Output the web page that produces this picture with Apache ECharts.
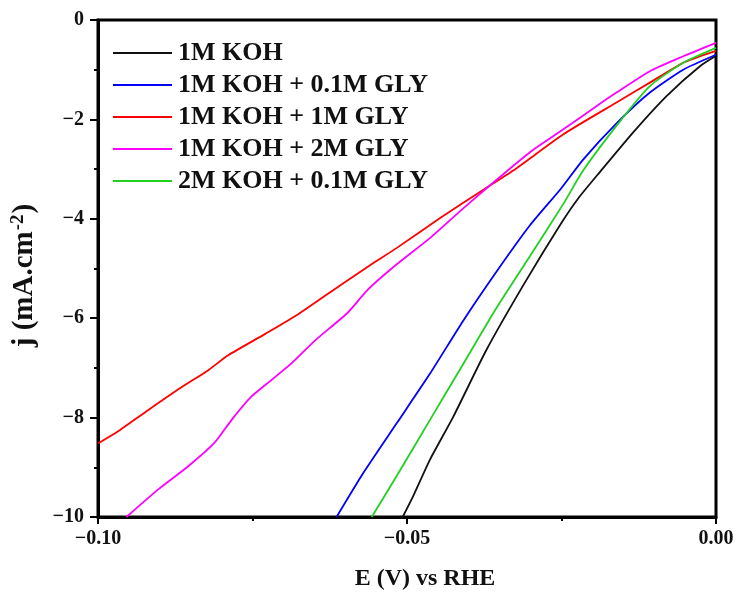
<!DOCTYPE html>
<html>
<head>
<meta charset="utf-8">
<script src="https://cdn.jsdelivr.net/npm/echarts@6/dist/echarts.min.js"></script>
<style>
html,body{margin:0;padding:0;background:#fff;}
#c{width:737px;height:596px;}
</style>
</head>
<body>
<div id="c"></div>
<script>
// ---- data ----
const seriesNames = ['1M KOH', '1M KOH + 0.1M GLY', '1M KOH + 1M GLY', '1M KOH + 2M GLY', '2M KOH + 0.1M GLY'];

const koh1X = [-0.0507, -0.0490, -0.0463, -0.0425, -0.0372, -0.0311, -0.0250, -0.0223, -0.0188, -0.0134, -0.0080, -0.0026, 0];
const koh1Y = [-10, -9.58, -8.85, -7.98, -6.65, -5.32, -4.08, -3.59, -3.06, -2.26, -1.53, -0.93, -0.72];

const gly01X = [-0.0614, -0.0571, -0.0517, -0.0463, -0.0409, -0.0355, -0.0301, -0.0250, -0.0215, -0.0161, -0.0107, -0.0053, 0];
const gly01Y = [-10, -9.12, -8.12, -7.12, -6.05, -5.06, -4.13, -3.38, -2.81, -2.08, -1.46, -1.00, -0.70];

const gly1X = [-0.1, -0.0968, -0.0919, -0.0865, -0.0822, -0.0790, -0.0730, -0.0676, -0.0606, -0.0558, -0.0517, -0.0447, -0.0382, -0.0328, -0.0247, -0.0161, -0.0107, -0.0053, 0];
const gly1Y = [-8.52, -8.28, -7.85, -7.39, -7.05, -6.75, -6.32, -5.92, -5.32, -4.92, -4.59, -3.99, -3.46, -3.03, -2.30, -1.66, -1.26, -0.86, -0.62];

const gly2X = [-0.0954, -0.0903, -0.0854, -0.0811, -0.0784, -0.0752, -0.0720, -0.0687, -0.0649, -0.0596, -0.0563, -0.0517, -0.0463, -0.0409, -0.0366, -0.0301, -0.0247, -0.0193, -0.0161, -0.0107, -0.0053, 0];
const gly2Y = [-10, -9.45, -8.98, -8.50, -8.05, -7.58, -7.25, -6.91, -6.45, -5.89, -5.42, -4.92, -4.39, -3.79, -3.33, -2.66, -2.20, -1.73, -1.46, -1.03, -0.73, -0.46];

const koh2X = [-0.0557, -0.0517, -0.0463, -0.0409, -0.0358, -0.0303, -0.0247, -0.0215, -0.0158, -0.0107, -0.0053, 0];
const koh2Y = [-10, -9.18, -8.05, -6.92, -5.85, -4.79, -3.70, -3.03, -2.08, -1.33, -0.86, -0.56];

const xTicks = [-0.10, -0.05, 0.00];
const yTicks = [-10, -8, -6, -4, -2, 0];

// ---- build ----
const colors = ['#111111', '#0000ff', '#ff0000', '#ff00ff', '#22d022'];
const xs = [koh1X, gly01X, gly1X, gly2X, koh2X];
const ys = [koh1Y, gly01Y, gly1Y, gly2Y, koh2Y];
const pair = (a, b) => a.map((v, i) => [v, b[i]]);

const font = 'Liberation Serif, Times New Roman, serif';
const minus = '\u2212';

const chart = echarts.init(document.getElementById('c'), null, {renderer: 'canvas'});
chart.setOption({
  animation: false,
  backgroundColor: '#fff',
  grid: {left: 98, right: 21, top: 20, bottom: 75, show: true, borderColor: '#000', borderWidth: 3},
  legend: {
    left: 113, top: 40, orient: 'vertical', padding: 0,
    icon: 'rect', itemWidth: 59, itemHeight: 2, itemGap: 6,
    data: seriesNames,
    textStyle: {fontFamily: font, fontWeight: 'bold', fontSize: 26, color: '#111', lineHeight: 26, padding: [0, 0, 0, 1]}
  },
  xAxis: {
    type: 'value', min: xTicks[0], max: xTicks[xTicks.length - 1], interval: 0.05,
    name: 'E (V) vs RHE', nameLocation: 'middle', nameGap: 50,
    nameTextStyle: {fontFamily: font, fontWeight: 'bold', fontSize: 24, color: '#111', padding: [0, 0, 0, 36]},
    axisLine: {show: true, onZero: false, lineStyle: {color: '#000', width: 3}},
    axisTick: {show: true, inside: false, length: 7, lineStyle: {color: '#000', width: 2}},
    minorTick: {show: true, splitNumber: 2, length: 4, lineStyle: {color: '#000', width: 2}},
    splitLine: {show: false},
    axisLabel: {
      fontFamily: font, fontWeight: 'bold', fontSize: 20, color: '#111', margin: 12,
      formatter: v => Math.abs(v) < 1e-9 ? '0.00' : (v < 0 ? minus : '') + Math.abs(v).toFixed(2)
    }
  },
  yAxis: {
    type: 'value', min: yTicks[0], max: yTicks[yTicks.length - 1], interval: 2,
    name: '{a|j (mA.cm}{s|-2}{a|)}', nameLocation: 'middle', nameGap: 54, nameRotate: 90,
    nameTextStyle: {
      padding: [0, 14, 0, 0],
      rich: {
        a: {fontFamily: font, fontWeight: 'bold', fontSize: 29, color: '#111', lineHeight: 30, verticalAlign: 'bottom'},
        s: {fontFamily: font, fontWeight: 'bold', fontSize: 19, color: '#111', lineHeight: 30, verticalAlign: 'top', padding: [0, 1, 14, 1]}
      }
    },
    axisLine: {show: true, onZero: false, lineStyle: {color: '#000', width: 3}},
    axisTick: {show: true, inside: false, length: 8, lineStyle: {color: '#000', width: 2}},
    minorTick: {show: true, splitNumber: 2, length: 4, lineStyle: {color: '#000', width: 2}},
    splitLine: {show: false},
    axisLabel: {
      fontFamily: font, fontWeight: 'bold', fontSize: 20, color: '#111', margin: 14,
      formatter: v => v === 0 ? '0' : (v < 0 ? minus : '') + Math.abs(v)
    }
  },
  series: seriesNames.map((n, i) => ({
    name: n, type: 'line', data: pair(xs[i], ys[i]),
    symbol: 'none', showSymbol: false, smooth: 0.2,
    lineStyle: {color: colors[i], width: 1.8},
    itemStyle: {color: colors[i]},
    clip: true, z: 2
  }))
});
</script>
</body>
</html>
